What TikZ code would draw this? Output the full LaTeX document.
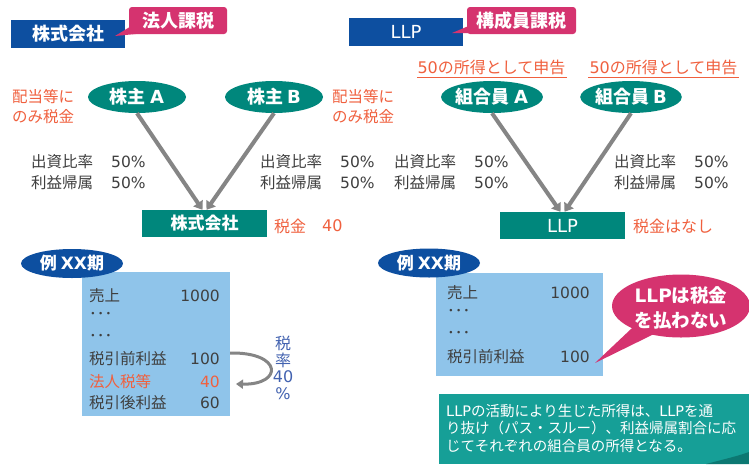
\documentclass[tikz,border=0pt]{standalone}
\usepackage{fontspec}
\setmainfont{Noto Sans CJK JP}
\newfontfamily\latf{DejaVu Sans}
\newcommand{\lt}[1]{{\latf #1}}
\usetikzlibrary{arrows.meta,shapes.geometric}
\definecolor{dblue}{HTML}{0D4FA0}
\definecolor{pinkc}{HTML}{D5336F}
\definecolor{tealc}{HTML}{00877C}
\definecolor{lblue}{HTML}{8FC4EA}
\definecolor{redt}{HTML}{F0603E}
\definecolor{tgray}{HTML}{3F3F3F}
\definecolor{agray}{HTML}{858585}
\definecolor{bluet}{HTML}{4262B0}
\definecolor{noteteal}{HTML}{169F97}
\definecolor{notedark}{HTML}{0C7872}
\newcommand{\fz}[2]{\fontsize{#1}{#2}\selectfont}
\begin{document}
\begin{tikzpicture}[x=1pt,y=-1pt,
  titlebox/.style={fill=dblue,text=white,minimum width=114pt,minimum height=28pt,inner sep=0pt},
  callbox/.style={fill=pinkc,text=white,rounded corners=3pt,minimum height=27pt,inner sep=0pt,font=\fz{18}{20}\bfseries},
  person/.style={ellipse,fill=tealc,text=white,minimum width=98pt,minimum height=32pt,inner sep=0pt,font=\fz{18}{20}\bfseries},
  entity/.style={fill=tealc,text=white,minimum width=125pt,minimum height=27pt,inner sep=0pt},
  txt/.style={text=tgray,font=\fz{15.5}{18},inner sep=0pt},
  redtxt/.style={text=redt,font=\fz{16}{20},inner sep=0pt},
  garrow/.style={draw=agray,line width=4pt,-{Triangle[length=8pt,width=11pt]}},
  period/.style={ellipse,fill=dblue,text=white,minimum width=102pt,minimum height=29pt,inner sep=0pt,font=\fz{17}{20}\bfseries},
  sheet/.style={fill=lblue,inner sep=0pt}
]
\useasboundingbox (0,0) rectangle (749,464);
\fill[white] (0,0) rectangle (749,464);

% ---------- titles and callouts ----------
\node[titlebox,font=\fz{18}{20}\bfseries] (t1) at (68,34) {株式会社};
\node[callbox,minimum width=98pt] (c1) at (178,20.5) {法人課税};
\coordinate (c1tip) at (115,36);
\fill[pinkc] (133,25) -- (c1tip) -- (146,33) -- cycle;

\node[titlebox,font=\fz{18}{20}] (t2) at (406,32) {\lt{LLP}};
\node[callbox,minimum width=109pt] (c2) at (521.5,20.5) {構成員課税};
\coordinate (c2tip) at (452,33);
\fill[pinkc] (471,25) -- (c2tip) -- (484,33) -- cycle;

% ---------- left: company ----------
\node[person] (sA) at (137,97) {株主 \lt{A}};
\node[person] (sB) at (274,97) {株主 \lt{B}};
\node[redtxt,font=\fz{15.5}{20},align=left,anchor=west] (n1) at (12,107) {配当等に\\のみ税金};
\node[redtxt,font=\fz{15.5}{20},align=left,anchor=west] (n2) at (332,107) {配当等に\\のみ税金};

\node[entity,font=\fz{17}{20}\bfseries] (cbox) at (204.5,223.5) {株式会社};
\draw[garrow] (sA.south) -- ([xshift=-2pt]cbox.north);
\draw[garrow] (sB.south) -- ([xshift=2pt]cbox.north);

\node[txt,anchor=west] (r1a) at (31,162) {出資比率};
\node[txt,anchor=west] (r1b) at (111,162) {\lt{50\%}};
\node[txt,anchor=west] (r1c) at (31,183) {利益帰属};
\node[txt,anchor=west] (r1d) at (111,183) {\lt{50\%}};
\node[txt,anchor=west] (r2a) at (260,162) {出資比率};
\node[txt,anchor=west] (r2b) at (340,162) {\lt{50\%}};
\node[txt,anchor=west] (r2c) at (260,183) {利益帰属};
\node[txt,anchor=west] (r2d) at (340,183) {\lt{50\%}};

\node[redtxt,anchor=west] (tax1) at (274,226) {税金};
\node[redtxt,anchor=west] (tax1v) at (322,226) {\lt{40}};

% ---------- right: LLP ----------
\node[person] (mA) at (492,97) {組合員 \lt{A}};
\node[person] (mB) at (631,97) {組合員 \lt{B}};
\node[redtxt] (d1) at (491.5,67) {\lt{50}の所得として申告};
\node[redtxt] (d2) at (663.5,67) {\lt{50}の所得として申告};
\draw[redt,line width=1.2pt] (417,77.5) -- (567,77.5);
\draw[redt,line width=1.2pt] (588,77.5) -- (739,77.5);

\node[entity,font=\fz{18}{20}] (lbox) at (562.5,225.5) {\lt{LLP}};
\draw[garrow] (mA.south) -- ([xshift=-2pt]lbox.north);
\draw[garrow] (mB.south) -- ([xshift=2pt]lbox.north);

\node[txt,anchor=west] (r3a) at (394,162) {出資比率};
\node[txt,anchor=west] (r3b) at (474,162) {\lt{50\%}};
\node[txt,anchor=west] (r3c) at (394,183) {利益帰属};
\node[txt,anchor=west] (r3d) at (474,183) {\lt{50\%}};
\node[txt,anchor=west] (r4a) at (614,162) {出資比率};
\node[txt,anchor=west] (r4b) at (694,162) {\lt{50\%}};
\node[txt,anchor=west] (r4c) at (614,183) {利益帰属};
\node[txt,anchor=west] (r4d) at (694,183) {\lt{50\%}};

\node[redtxt,anchor=west] (tax2) at (633,226) {税金はなし};

% ---------- left example sheet ----------
\node[sheet,minimum width=148pt,minimum height=144pt] (ex1) at (156,344) {};
\node[period] (p1) at (72,263.5) {例 \lt{XX}期};
\node[txt,anchor=west] (a1) at (89,296) {売上};
\node[txt,anchor=east] (a1v) at (220,296) {\lt{1000}};
\node[txt,anchor=west] (a2) at (89,316) {･･･};
\node[txt,anchor=west] (a3) at (89,338) {･･･};
\node[txt,anchor=west] (a4) at (89,359) {税引前利益};
\node[txt,anchor=east] (a4v) at (220,359) {\lt{100}};
\node[txt,anchor=west,text=redt] (a5) at (89,382) {法人税等};
\node[txt,anchor=east,text=redt] (a5v) at (220,382) {\lt{40}};
\node[txt,anchor=west] (a6) at (89,403) {税引後利益};
\node[txt,anchor=east] (a6v) at (220,403) {\lt{60}};

\coordinate (ra1) at (230,353);
\coordinate (ra2) at (236,384);
\draw[draw=agray,line width=3pt,-{Triangle[length=7pt,width=9pt]}] (ra1) .. controls (283,352) and (283,385) .. (ra2);
\node[font=\fz{16}{16.7},text=bluet,align=center,inner sep=0pt] (rate) at (283,368) {税\\率\\\lt{40}\\\lt{\%}};

% ---------- right example sheet ----------
\node[sheet,minimum width=167pt,minimum height=103pt] (ex2) at (519.5,324.5) {};
\node[period] (p2) at (429,263) {例 \lt{XX}期};
\node[txt,anchor=west] (b1) at (447,293) {売上};
\node[txt,anchor=east] (b1v) at (590,293) {\lt{1000}};
\node[txt,anchor=west] (b2) at (447,313) {･･･};
\node[txt,anchor=west] (b3) at (447,335) {･･･};
\node[txt,anchor=west] (b4) at (447,357) {税引前利益};
\node[txt,anchor=east] (b4v) at (590,357) {\lt{100}};

% speech bubble
\node[ellipse,fill=pinkc,minimum width=138pt,minimum height=63pt,inner sep=0pt] (bub) at (681,306) {};
\coordinate (btip) at (595,363);
\fill[pinkc] (640,320.5) -- (btip) -- (665,328.6) -- cycle;
\node[text=white,font=\fz{18.5}{25}\bfseries,align=center,inner sep=0pt] (bubt) at (681,307.5) {\lt{LLP}は税金\\を払わない};

% note
\fill[noteteal] (439,394) rectangle (749,464);
\fill[notedark] (706,464) .. controls (725,459) and (738,456) .. (749,452) -- (749,464) -- cycle;
\node[text=white,font=\fz{14.5}{17.5},align=left,anchor=north west,inner sep=0pt] (note) at (446,404) {\lt{LLP}の活動により生じた所得は、\lt{LLP}を通\\り抜け（パス・スルー）、利益帰属割合に応\\じてそれぞれの組合員の所得となる。};
\end{tikzpicture}
\end{document}
